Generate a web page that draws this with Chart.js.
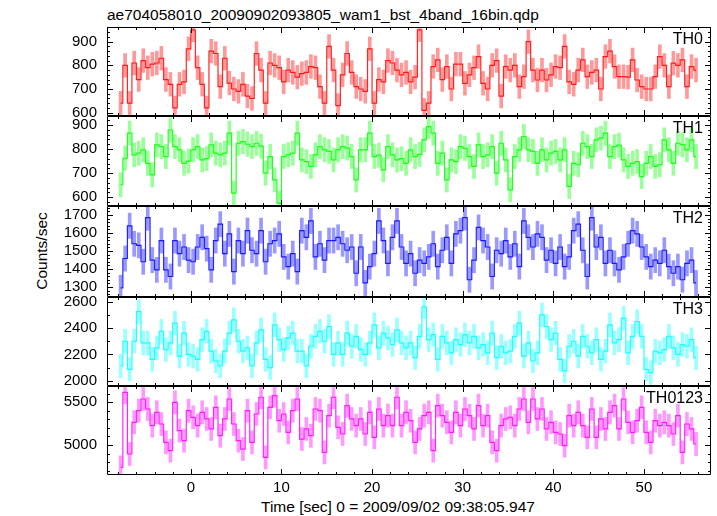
<!DOCTYPE html>
<html lang="en">
<head>
  <meta charset="UTF-8">
  <title>ae704058010 WAM light curve</title>
  <script src="https://cdn.jsdelivr.net/npm/chart.js"></script>
  <style>
    body, html {
      margin: 0;
      padding: 0;
      overflow: hidden;
      width: 717px;
      height: 516px;
      background: #fff;
    }
    canvas {
      position: absolute;
      left: 0;
    }
    .txt {
      position: absolute;
      font-family: "Liberation Sans", Arial, sans-serif;
      font-size: 15.5px;
      line-height: 1;
      color: #000;
      white-space: nowrap;
    }
  </style>
</head>
<body>
  <div class="txt" style="left:107px; top:7px;">ae704058010_20090902093805_wam1_bst_4band_16bin.qdp</div>
  <div class="txt" style="left:-58px; top:242px; width:200px; height:18px; line-height:18px; text-align:center; transform:rotate(-90deg);">Counts/sec</div>
  <div class="txt" style="left:261px; top:499px;">Time [sec] 0 = 2009/09/02 09:38:05.947</div>

  <script>
    // bin centres (sec from trigger), 0.5 s bins
    const binTime = [
      -7.75,-7.25,-6.75,-6.25,-5.75,-5.25,-4.75,-4.25,-3.75,-3.25,
      -2.75,-2.25,-1.75,-1.25,-0.75,-0.25,0.25,0.75,1.25,1.75,
      2.25,2.75,3.25,3.75,4.25,4.75,5.25,5.75,6.25,6.75,
      7.25,7.75,8.25,8.75,9.25,9.75,10.25,10.75,11.25,11.75,
      12.25,12.75,13.25,13.75,14.25,14.75,15.25,15.75,16.25,16.75,
      17.25,17.75,18.25,18.75,19.25,19.75,20.25,20.75,21.25,21.75,
      22.25,22.75,23.25,23.75,24.25,24.75,25.25,25.75,26.25,26.75,
      27.25,27.75,28.25,28.75,29.25,29.75,30.25,30.75,31.25,31.75,
      32.25,32.75,33.25,33.75,34.25,34.75,35.25,35.75,36.25,36.75,
      37.25,37.75,38.25,38.75,39.25,39.75,40.25,40.75,41.25,41.75,
      42.25,42.75,43.25,43.75,44.25,44.75,45.25,45.75,46.25,46.75,
      47.25,47.75,48.25,48.75,49.25,49.75,50.25,50.75,51.25,51.75,
      52.25,52.75,53.25,53.75,54.25,54.75,55.25,55.75
    ];

    const rateTH0 = [
      640,800,640,810,740,820,790,805,810,830,
      740,720,620,720,730,870,950,790,720,620,
      860,850,710,830,725,700,690,720,670,660,
      850,780,640,810,800,790,730,780,770,750,
      765,770,795,790,710,640,880,780,630,760,
      850,770,710,700,690,870,640,740,730,820,
      810,780,760,770,730,750,950,610,640,795,
      823,740,795,700,805,805,724,760,790,837,
      724,700,800,820,670,795,780,800,710,752,
      900,780,738,780,738,760,795,790,880,730,
      720,780,823,752,770,780,700,837,860,795,
      752,752,750,823,738,710,700,700,752,837,
      800,710,809,800,823,710,795,780
    ];

    const rateTH1 = [
      652,762,866,776,783,797,741,693,817,810,
      769,879,810,797,741,750,797,810,755,760,
      817,783,776,783,866,617,824,831,820,810,
      824,812,700,769,672,576,769,776,783,866,
      755,748,728,776,810,797,790,755,797,810,
      804,769,672,797,797,866,769,775,714,810,
      776,755,760,741,797,769,778,838,893,866,
      741,783,672,755,748,810,803,769,728,817,
      769,776,810,700,824,755,631,769,797,852,
      797,790,741,797,755,783,790,755,797,645,
      741,735,824,810,769,838,845,866,769,810,
      816,755,728,741,748,686,741,769,728,735,
      838,797,741,824,818,797,838,769
    ];

    const rateTH2 = [
      1295,1458,1640,1540,1531,1440,1685,1449,1395,1558,
      1395,1358,1558,1485,1522,1449,1440,1522,1576,1513,
      1395,1558,1649,1485,1595,1385,1558,1485,1613,1504,
      1485,1613,1440,1540,1558,1595,1467,1413,1485,1385,
      1613,1576,1667,1467,1540,1449,1558,1558,1576,1540,
      1504,1522,1376,1522,1322,1413,1485,1667,1558,1431,
      1576,1667,1522,1431,1485,1376,1449,1431,1467,1540,
      1413,1504,1576,1431,1595,1613,1685,1340,1449,1631,
      1558,1522,1358,1504,1485,1558,1467,1540,1413,1667,
      1576,1522,1595,1576,1449,1504,1431,1522,1413,1467,
      1613,1649,1504,1358,1685,1522,1576,1431,1504,1431,
      1395,1467,1540,1613,1595,1522,1467,1413,1449,1431,
      1504,1413,1376,1413,1340,1431,1449,1322
    ];

    const rateTH3 = [
      2112,2300,2087,2300,2525,2287,2287,2162,2250,2375,
      2237,2287,2437,2187,2362,2200,2187,2162,2312,2375,
      2225,2150,2112,2225,2362,2462,2300,2225,2250,2112,
      2287,2387,2162,2100,2425,2312,2237,2325,2362,2225,
      2225,2112,2262,2337,2375,2300,2412,2200,2287,2200,
      2362,2262,2337,2237,2200,2287,2425,2250,2362,2325,
      2275,2387,2287,2250,2287,2175,2337,2562,2312,2350,
      2162,2337,2287,2212,2312,2275,2350,2287,2337,2250,
      2275,2212,2362,2175,2262,2212,2225,2337,2437,2187,
      2287,2150,2212,2500,2412,2312,2362,2162,2075,2262,
      2300,2187,2337,2262,2212,2312,2162,2225,2425,2287,
      2312,2475,2212,2337,2450,2337,2087,2062,2225,2212,
      2237,2337,2250,2200,2275,2262,2312,2175
    ];

    const rateTH0123 = [
      4738,5617,4895,5266,5402,5539,5422,5227,5383,5246,
      5031,4934,5500,5168,5051,5402,5324,5227,5383,5305,
      5188,5441,5109,5305,5539,5246,5051,4953,5402,5031,
      5363,5559,4855,5441,5578,5285,5363,5148,5402,5539,
      5070,5188,5109,5422,5402,4914,5344,5559,5207,5129,
      5461,5305,5227,5305,5129,5383,5090,5422,5227,5344,
      5227,5559,5227,5383,5285,5031,5188,5344,5383,4934,
      5461,5344,5266,5148,5383,5227,5422,5344,5188,5461,
      5227,5344,5031,4934,5227,5305,5324,5227,5422,5539,
      5266,5539,5305,5422,5188,5266,5148,5129,4992,5344,
      5227,5383,5227,5090,5422,5090,5305,5188,5383,5461,
      5188,5539,5266,5148,5285,5441,5148,5031,5285,5227,
      5266,5227,5129,5344,4914,5246,5188,5012
    ];

    const bandNames = ['TH0', 'TH1', 'TH2', 'TH3', 'TH0123'];
    const bandRates = [rateTH0, rateTH1, rateTH2, rateTH3, rateTH0123];
    const rateError = [50, 50, 70, 90, 135];   // typical 1-sigma half length per band

    const xTicks = [0, 10, 20, 30, 40, 50];
    const yTicks = [
      [600, 700, 800, 900],
      [600, 700, 800, 900],
      [1300, 1400, 1500, 1600, 1700],
      [2000, 2200, 2400, 2600],
      [5000, 5500]
    ];

    // layout / look
    const panelTop = [27, 116, 206, 297, 386];
    const panelBottom = [116, 206, 297, 386, 475];
    const MARGIN = 22;   // canvas overhang so tick labels never squeeze the panel
    const yRange = [[586, 962], [564, 937], [1244, 1750], [1960, 2636], [4649, 5691]];
    const yMinorStep = [20, 20, 20, 100, 100];
    const bandColor = ['255,0,0', '0,255,0', '0,0,255', '0,255,255', '255,0,255'];
    const xMin = -9.25, xMax = 57.4;
    const FONT = '"Liberation Sans", Arial, sans-serif';

    Chart.defaults.font.family = FONT;
    Chart.defaults.color = '#000';

    // frame, inward ticks and band name, qdp style
    const qdpFrame = {
      id: 'qdpFrame',
      afterDatasetsDraw(chart, args, opts) {
        const { ctx, chartArea: a, scales: { x, y } } = chart;
        ctx.save();
        ctx.strokeStyle = '#000';
        ctx.lineWidth = 1;
        ctx.beginPath();
        for (let t = -8; t <= 56; t += 2) {
          const px = Math.round(x.getPixelForValue(t)) + 0.5;
          const len = t % 10 === 0 ? 6 : 3;
          ctx.moveTo(px, a.top); ctx.lineTo(px, a.top + len);
          ctx.moveTo(px, a.bottom); ctx.lineTo(px, a.bottom - len);
        }
        for (let v = Math.ceil(y.min / opts.minor) * opts.minor; v <= y.max; v += opts.minor) {
          const py = Math.round(y.getPixelForValue(v)) + 0.5;
          const len = opts.major.includes(v) ? 6 : 3;
          ctx.moveTo(a.left, py); ctx.lineTo(a.left + len, py);
          ctx.moveTo(a.right, py); ctx.lineTo(a.right - len, py);
        }
        ctx.rect(a.left + 0.5, a.top + 0.5, a.right - a.left - 1, a.bottom - a.top - 1);
        ctx.stroke();
        ctx.fillStyle = '#000';
        ctx.font = '16px ' + FONT;
        ctx.textAlign = 'right';
        ctx.textBaseline = 'alphabetic';
        ctx.fillText(opts.label, a.right - 8, a.top + 17);
        ctx.restore();
      }
    };

    bandRates.forEach((rates, i) => {
      const isLast = i === bandRates.length - 1;
      const top = panelTop[i] - MARGIN;
      const height = isLast ? 516 - top : panelBottom[i] - panelTop[i] + 2 * MARGIN;
      const cv = document.createElement('canvas');
      cv.width = 717;
      cv.height = height;
      cv.style.top = top + 'px';
      document.body.appendChild(cv);

      const col = bandColor[i];
      const err = rateError[i];

      new Chart(cv.getContext('2d'), {
        type: 'line',
        data: {
          datasets: [
            {
              type: 'line',
              data: binTime.map((t, k) => ({ x: t, y: rates[k] })),
              borderColor: `rgba(${col}, 0.85)`,
              borderWidth: 1.2,
              stepped: 'middle',
              pointRadius: 0,
              clip: 0,
              order: 0
            },
            {
              type: 'bar',
              data: binTime.map((t, k) => ({ x: t, y: [rates[k] - err, rates[k] + err] })),
              backgroundColor: `rgba(${col}, 0.4)`,
              borderWidth: 0,
              barThickness: 3,
              clip: 0,
              order: 1
            }
          ]
        },
        options: {
          responsive: false,
          animation: false,
          events: [],
          layout: { padding: { top: MARGIN, right: 6, bottom: isLast ? 0 : MARGIN, left: 0 } },
          scales: {
            x: {
              type: 'linear',
              min: xMin,
              max: xMax,
              offset: false,
              display: isLast,
              afterBuildTicks: s => { s.ticks = xTicks.map(v => ({ value: v })); },
              afterFit: s => { if (isLast) s.height = 41; },
              grid: { display: false, drawTicks: false },
              border: { display: false },
              ticks: { padding: 4, font: { size: 15 }, maxRotation: 0, autoSkip: false, callback: v => String(v) }
            },
            y: {
              type: 'linear',
              min: yRange[i][0],
              max: yRange[i][1],
              afterBuildTicks: s => { s.ticks = yTicks[i].map(v => ({ value: v })); },
              afterFit: s => { s.width = 107; },
              grid: { display: false, drawTicks: false },
              border: { display: false },
              ticks: { padding: 10, font: { size: 15 }, autoSkip: false, callback: v => String(v) }
            }
          },
          plugins: {
            legend: { display: false },
            tooltip: { enabled: false },
            qdpFrame: { minor: yMinorStep[i], major: yTicks[i], label: bandNames[i] }
          }
        },
        plugins: [qdpFrame]
      });
    });
  </script>
</body>
</html>
